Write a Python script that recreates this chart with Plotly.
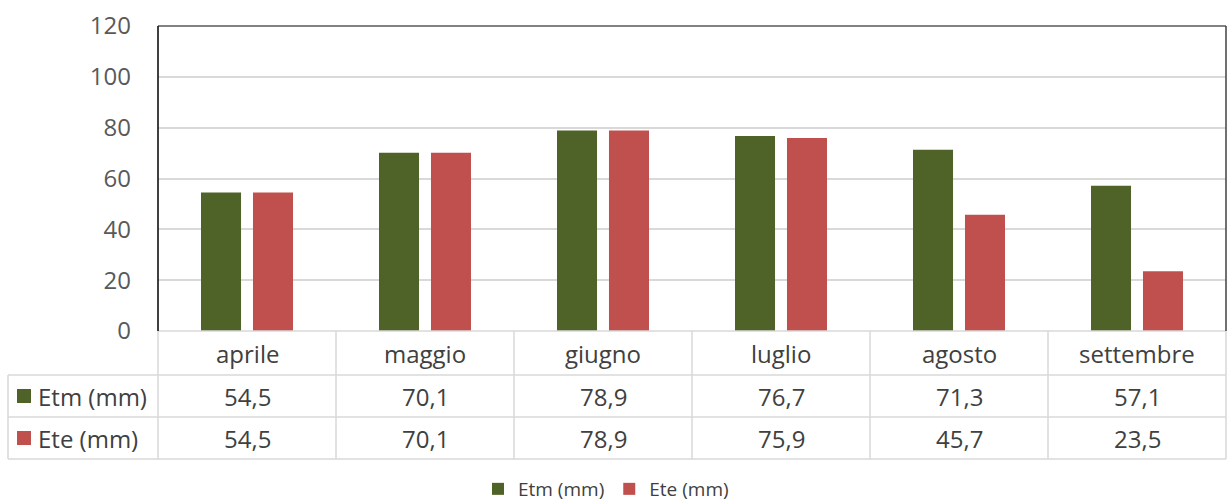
import plotly.graph_objects as go

# Monthly evapotranspiration values (mm)
mesi = ["aprile", "maggio", "giugno", "luglio", "agosto", "settembre"]
etm = [54.5, 70.1, 78.9, 76.7, 71.3, 57.1]
ete = [54.5, 70.1, 78.9, 75.9, 45.7, 23.5]
serie_nomi = ["Etm (mm)", "Ete (mm)"]
serie_valori = [etm, ete]
colori = ["#4F6228", "#C0504D"]
y_ticks = [0, 20, 40, 60, 80, 100, 120]

W, H = 1227, 504
L, R, T, B = 158, 1, 26, 173
plot_h = H - T - B
FONT = "Open Sans"
TXT = "#404040"
GRID = "#D9D9D9"
TABLE_SIZE = 24


def py(pixel_y):
    """Convert a page y position below the plot area to paper units."""
    return (H - B - pixel_y) / plot_h


def px(pixel_x):
    return (pixel_x - L) / (W - L - R)


fig = go.Figure()
for nome, vals, col in zip(serie_nomi, serie_valori, colori):
    fig.add_trace(go.Bar(x=mesi, y=vals, name=nome, marker_color=col,
                         marker_line_width=0))

n = len(mesi)
shapes = []
annotations = []


def label(x, y, text, xanchor="center"):
    annotations.append(dict(x=x, y=y, xref="paper", yref="paper", xanchor=xanchor,
                            yanchor="middle", text=text, showarrow=False,
                            font=dict(size=TABLE_SIZE, color=TXT, family=FONT)))


# data table rows below the axis
row_top = [331, 375, 417]
row_bot = [375, 417, 459]
for i, m in enumerate(mesi):
    cx = (i + 0.5) / n
    label(cx, py((row_top[0] + row_bot[0]) / 2), m)
    for r, vals in enumerate(serie_valori):
        label(cx, py((row_top[r + 1] + row_bot[r + 1]) / 2),
              f"{vals[i]:.1f}".replace(".", ","))

# row headers with colour keys
for r, (nome, col) in enumerate(zip(serie_nomi, colori)):
    yc = (row_top[r + 1] + row_bot[r + 1]) / 2
    shapes.append(dict(type="rect", xref="paper", yref="paper",
                       x0=px(17), x1=px(31), y0=py(yc - 7), y1=py(yc + 7),
                       fillcolor=col, line=dict(width=0)))
    label(px(36), py(yc), nome, xanchor="left")

# table grid
line = dict(color=GRID, width=1.5)
shapes.append(dict(type="line", xref="paper", yref="paper", x0=0, x1=1, y0=py(331), y1=py(331), line=line))
for yy in row_bot:
    shapes.append(dict(type="line", xref="paper", yref="paper", x0=px(8), x1=1, y0=py(yy), y1=py(yy), line=line))
for i in range(n + 1):
    shapes.append(dict(type="line", xref="paper", yref="paper", x0=i / n, x1=i / n,
                       y0=py(331), y1=py(459), line=line))
shapes.append(dict(type="line", xref="paper", yref="paper", x0=px(8), x1=px(8),
                   y0=py(375), y1=py(459), line=line))

# plot area border
shapes.append(dict(type="line", xref="paper", yref="paper", x0=0, x1=1, y0=1, y1=1,
                   line=dict(color="#595959", width=1.5)))
shapes.append(dict(type="line", xref="paper", yref="paper", x0=1, x1=1, y0=0, y1=1,
                   line=dict(color="#404040", width=1.5)))
shapes.append(dict(type="line", xref="paper", yref="paper", x0=0, x1=0, y0=0, y1=1,
                   line=dict(color="#000000", width=1.5)))

fig.update_layout(
    width=W, height=H,
    margin=dict(l=L, r=R, t=T, b=B, autoexpand=False),
    paper_bgcolor="white", plot_bgcolor="white",
    barmode="group", bargap=0.416, bargroupgap=0.23,
    font=dict(family=FONT, color=TXT),
    shapes=shapes, annotations=annotations,
    legend=dict(orientation="h", x=px(606), xanchor="center", y=py(489), yanchor="middle",
                font=dict(size=19, color=TXT, family=FONT), itemwidth=30),
    showlegend=True,
)
fig.update_xaxes(range=[-0.5, n - 0.5], showticklabels=False, showgrid=False,
                 showline=False, zeroline=False)
fig.update_yaxes(range=[0, 120], tickvals=y_ticks, showgrid=True, gridcolor=GRID, gridwidth=1.5,
                 zeroline=False, showline=False, ticks="", ticklabelstandoff=26,
                 tickfont=dict(size=24, color="#595959", family=FONT))

fig.write_html("out.html")
